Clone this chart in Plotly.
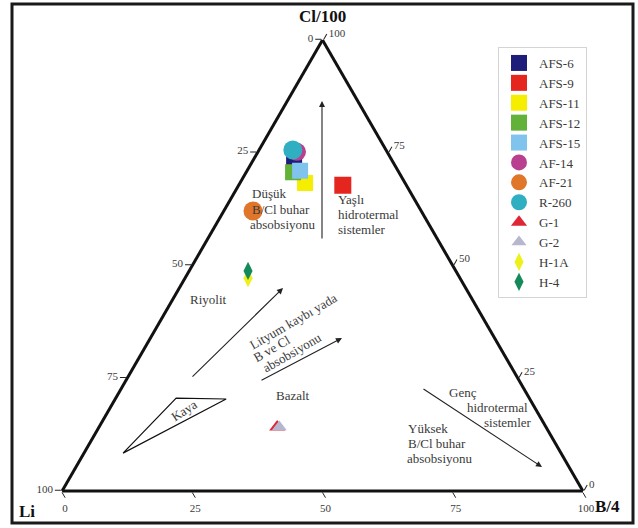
import plotly.graph_objects as go

# Sample compositions (percent of Cl/100 + Li + B/4)
samples = ["AFS-6", "AFS-9", "AFS-11", "AFS-12", "AFS-15", "AF-14",
           "AF-21", "R-260", "G-1", "G-2", "H-1A", "H-4"]
cl_pct = [72.7, 67.8, 68.3, 70.7, 71.0, 75.2, 62.1, 75.6, 14.2, 14.2, 47.2, 48.8]
li_pct = [19.1, 12.2, 19.2, 20.3, 18.8, 17.3, 32.3, 17.9, 51.6, 51.2, 40.7, 39.9]
b_pct = [8.2, 20.0, 12.5, 9.0, 10.2, 7.5, 5.6, 6.5, 34.2, 34.6, 12.1, 11.3]

# Rock ("Kaya") field outline
kaya_cl = [8.4, 20.6, 20.4, 8.4]
kaya_li = [84.1, 67.8, 58.3, 84.1]
kaya_b = [7.5, 11.6, 21.3, 7.5]

# Axis ticks (labels read counter-clockwise around the triangle)
tick_vals = [0, 25, 50, 75, 100]
tick_text = ["100", "75", "50", "25", "0"]

# Marker styling per sample
symbols = ["square"] * 5 + ["circle"] * 3 + ["triangle-up"] * 2 + ["diamond-tall"] * 2
colors = ["#1f1d7a", "#e5261f", "#f6ee00", "#62b23a", "#80c4ee", "#b8408f",
          "#e0762a", "#30aec2", "#de2636", "#b6b6cf", "#eef01a", "#148a5a"]
sizes = [16, 17, 16, 16, 16, 18, 19, 19, 14, 13, 13, 13]

W, H = 638, 528
ML, MR, MT, MB = 62, 55, 40, 37
PW, PH = W - ML - MR, H - MT - MB
SERIF = "Liberation Serif"
TXT = "#3a3a3a"


def paper(px, py):
    """Pixel position on the page -> paper coordinates."""
    return (px - ML) / PW, (H - MB - py) / PH


fig = go.Figure()

fig.add_trace(go.Scatterternary(
    a=kaya_cl, b=kaya_li, c=kaya_b, mode="lines",
    line=dict(color="#111111", width=1.2), showlegend=False, hoverinfo="skip"))

for i, name in enumerate(samples):
    fig.add_trace(go.Scatterternary(
        a=[cl_pct[i]], b=[li_pct[i]], c=[b_pct[i]],
        mode="markers", name=name,
        marker=dict(symbol=symbols[i], color=colors[i], size=sizes[i],
                    line=dict(width=0))))

axis_common = dict(
    min=0, linewidth=3, linecolor="#111111", showgrid=False,
    ticks="outside", ticklen=6, tickwidth=1, tickcolor="#222222",
    tickmode="array", tickvals=tick_vals, ticktext=tick_text,
    tickfont=dict(family=SERIF, size=11, color=TXT), showline=True,
    title=dict(text=""))

fig.update_layout(
    width=W, height=H,
    margin=dict(l=ML, r=MR, t=MT, b=MB, pad=0),
    paper_bgcolor="white",
    font=dict(family=SERIF, color=TXT),
    ternary=dict(
        sum=100, bgcolor="white",
        domain=dict(x=[0, 1], y=[0, 1]),
        aaxis=axis_common, baxis=axis_common, caxis=axis_common,
    ),
    legend=dict(
        x=paper(498, 47)[0], y=paper(498, 47)[1], xanchor="left", yanchor="top",
        bgcolor="white", bordercolor="#d4d4d4", borderwidth=1,
        font=dict(family=SERIF, size=13, color=TXT),
        itemsizing="trace", tracegroupgap=0),
    showlegend=True,
)

# Outer frame
fx0, fy0 = paper(12, 523)
fx1, fy1 = paper(633, 4)
fig.add_shape(type="rect", xref="paper", yref="paper",
              x0=fx0, y0=fy0, x1=fx1, y1=fy1,
              line=dict(color="#1a1a1a", width=3))

# Corner (component) titles: (text, centre px, centre py)
corner_titles = [("Cl/100", 322, 17), ("Li", 27, 511), ("B/4", 607, 507)]
for text, px, py in corner_titles:
    x, y = paper(px, py)
    fig.add_annotation(x=x, y=y, xref="paper", yref="paper",
                       text="<b>%s</b>" % text, showarrow=False,
                       xanchor="center", yanchor="middle",
                       font=dict(family=SERIF, size=17, color="#111111"))

# Trend arrows: (tail px, tail py, head px, head py)
arrows = [
    (322, 240, 322, 101),
    (191, 378, 283, 288),
    (260, 381, 342, 338),
    (422, 388, 542, 467),
]
for tx, ty, hx, hy in arrows:
    x, y = paper(hx, hy)
    fig.add_annotation(x=x, y=y, xref="paper", yref="paper", text="",
                       showarrow=True, ax=tx - hx, ay=ty - hy,
                       arrowhead=2, arrowsize=1.1, arrowwidth=1.1,
                       arrowcolor="#222222")

# Field / process labels: (text, left px, centre py)
left_labels = [
    ("Düşük", 250, 193), ("B/Cl buhar", 250, 209), ("absobsiyonu", 248, 225),
    ("Yaşlı", 336, 199), ("hidrotermal", 336, 214), ("sistemler", 336, 229),
    ("Genç", 447, 392), ("hidrotermal", 465, 407), ("sistemler", 482, 422),
    ("Yüksek", 406, 428), ("B/Cl buhar", 406, 443), ("absobsiyonu", 405, 458),
]
for text, px, py in left_labels:
    x, y = paper(px, py)
    fig.add_annotation(x=x, y=y, xref="paper", yref="paper", text=text,
                       showarrow=False, xanchor="left", yanchor="middle",
                       font=dict(family=SERIF, size=13, color=TXT))

# Centred labels, some rotated along the trend arrows: (text, px, py, angle)
centre_labels = [
    ("Riyolit", 208, 300, 0),
    ("Bazalt", 293, 395, 0),
    ("Kaya", 184, 410, -33),
    ("Lityum kaybı yada", 293, 321, -30),
    ("B ve Cl", 272, 349, -30),
    ("absobsiyonu", 292, 352, -30),
]
for text, px, py, ang in centre_labels:
    x, y = paper(px, py)
    fig.add_annotation(x=x, y=y, xref="paper", yref="paper", text=text,
                       showarrow=False, xanchor="center", yanchor="middle",
                       textangle=ang,
                       font=dict(family=SERIF, size=13, color=TXT))

fig.write_html("out.html")
